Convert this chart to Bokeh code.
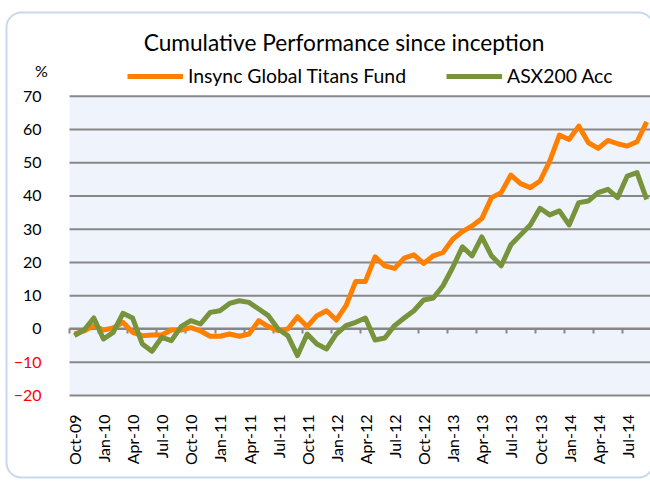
import math
from bokeh.plotting import figure
from bokeh.models import (Range1d, FixedTicker, LinearAxis, Label, Legend,
                          LegendItem, BoxAnnotation)
from bokeh.embed import file_html
from bokeh.resources import INLINE

# ---------------- data ----------------
months = ["Oct-09", "Nov-09", "Dec-09", "Jan-10", "Feb-10", "Mar-10", "Apr-10",
          "May-10", "Jun-10", "Jul-10", "Aug-10", "Sep-10", "Oct-10", "Nov-10",
          "Dec-10", "Jan-11", "Feb-11", "Mar-11", "Apr-11", "May-11", "Jun-11",
          "Jul-11", "Aug-11", "Sep-11", "Oct-11", "Nov-11", "Dec-11", "Jan-12",
          "Feb-12", "Mar-12", "Apr-12", "May-12", "Jun-12", "Jul-12", "Aug-12",
          "Sep-12", "Oct-12", "Nov-12", "Dec-12", "Jan-13", "Feb-13", "Mar-13",
          "Apr-13", "May-13", "Jun-13", "Jul-13", "Aug-13", "Sep-13", "Oct-13",
          "Nov-13", "Dec-13", "Jan-14", "Feb-14", "Mar-14", "Apr-14", "May-14",
          "Jun-14", "Jul-14", "Aug-14", "Sep-14"]

fund = [-1.5, -0.6, 1.0, -0.3, 0.3, 2.0, -1.0, -2.0, -1.8, -1.8,
        -0.3, -0.3, 0.4, -0.6, -2.2, -2.2, -1.5, -2.2, -1.5, 2.5,
        0.7, -0.5, 0.0, 3.7, 0.7, 4.0, 5.5, 2.7, 7.0, 14.3,
        14.3, 21.7, 19.0, 18.2, 21.3, 22.3, 19.7, 22.0, 23.0, 27.0,
        29.3, 31.0, 33.2, 39.5, 41.0, 46.3, 43.7, 42.5, 44.5, 50.5,
        58.3, 57.0, 61.0, 56.0, 54.3, 56.7, 55.7, 55.0, 56.3, 62.3]

asx = [-2.0, -0.3, 3.3, -3.0, -1.0, 4.7, 3.3, -4.5, -6.7, -2.5,
       -3.5, 0.7, 2.5, 1.5, 5.0, 5.5, 7.7, 8.5, 8.0, 6.0,
       4.0, 0.0, -2.0, -8.0, -1.5, -4.5, -6.0, -1.5, 1.0, 2.0,
       3.3, -3.3, -2.7, 1.0, 3.3, 5.5, 8.7, 9.3, 13.0, 18.5,
       24.7, 22.0, 27.7, 22.0, 19.0, 25.3, 28.3, 31.3, 36.3, 34.3,
       35.5, 31.3, 38.0, 38.5, 41.0, 42.0, 39.5, 46.0, 47.0, 39.0]

series_names = ["Insync Global Titans Fund", "ASX200 Acc"]
y_ticks = [-20, -10, 0, 10, 20, 30, 40, 50, 60, 70]
title_text = "Cumulative Performance since inception"
unit_text = "%"

# ---------------- layout / styling ----------------
W, H = 650, 481
FONT = "Lato"
ORANGE = "#FF8000"
GREEN = "#77933C"
GRID = "#878787"
BG = "#EFF3FB"
BORDER = "#4A7EBB"

PX_X = 9.7                  # pixels per month
PX_Y = 299.3 / 90.0         # pixels per percentage point
X0_PX = 73.9                # pixel position of first month
YTOP_PX = 95.7              # pixel position of the top of the value axis

X_START = -X0_PX / PX_X
X_END = X_START + W / PX_X
Y_TOP = max(y_ticks) + YTOP_PX / PX_Y
Y_BOTTOM = Y_TOP - H / PX_Y


def px_x(px):
    return X_START + px / PX_X


def px_y(py):
    return Y_TOP - py / PX_Y


x = list(range(len(months)))
label_idx = list(range(0, len(months), 3))
tick_bounds = [i - 0.5 for i in label_idx]
PLOT_LEFT = -0.5
Y_MIN, Y_MAX = min(y_ticks), max(y_ticks)

p = figure(width=W, height=H, output_backend="svg", toolbar_location=None,
           x_range=Range1d(X_START, X_END), y_range=Range1d(Y_BOTTOM, Y_TOP),
           x_axis_location=None, y_axis_location=None,
           min_border=0, background_fill_color="white",
           border_fill_color="white", outline_line_color=None)
p.grid.visible = False

# plot area background
p.add_layout(BoxAnnotation(left=PLOT_LEFT, right=X_END, bottom=Y_MIN, top=Y_MAX,
                           fill_color=BG, fill_alpha=1, line_color=None,
                           level="image"))

# horizontal gridlines
p.segment(x0=[PLOT_LEFT] * len(y_ticks), x1=[X_END] * len(y_ticks),
          y0=y_ticks, y1=y_ticks, line_color=GRID, line_width=2)

# tick marks on zero line
za = LinearAxis(fixed_location=0, ticker=FixedTicker(ticks=tick_bounds),
                bounds=(PLOT_LEFT, X_END),
                axis_line_color=GRID, axis_line_width=2,
                major_tick_line_color=GRID, major_tick_line_width=2,
                major_tick_in=0, major_tick_out=5, minor_tick_line_color=None,
                major_label_overrides={t: "" for t in tick_bounds},
                major_label_text_font_size="1px", level="underlay")
p.add_layout(za, "below")

# category labels along the bottom of the plot area
xa = LinearAxis(fixed_location=Y_MIN, ticker=FixedTicker(ticks=label_idx),
                major_label_overrides={i: months[i] for i in label_idx},
                major_label_orientation=math.pi / 2,
                axis_line_color=None, major_tick_line_color=None,
                minor_tick_line_color=None, major_label_standoff=13,
                major_label_text_font=FONT, major_label_text_font_size="16px",
                major_label_text_color="black")
p.add_layout(xa, "below")

# value labels: non-negative black, negative red
ya = LinearAxis(fixed_location=PLOT_LEFT,
                ticker=FixedTicker(ticks=[t for t in y_ticks if t >= 0]),
                axis_line_color=None, major_tick_line_color=None,
                minor_tick_line_color=None, major_label_standoff=22,
                major_label_text_font=FONT, major_label_text_font_size="16px",
                major_label_text_color="black")
p.add_layout(ya, "left")
ra = LinearAxis(fixed_location=PLOT_LEFT,
                ticker=FixedTicker(ticks=[t for t in y_ticks if t < 0]),
                axis_line_color=None, major_tick_line_color=None,
                minor_tick_line_color=None, major_label_standoff=22,
                major_label_text_font=FONT, major_label_text_font_size="16px",
                major_label_text_color="red")
p.add_layout(ra, "left")

# series
r1 = p.line(x, fund, line_color=ORANGE, line_width=5, line_join="round")
r2 = p.line(x, asx, line_color=GREEN, line_width=5, line_join="round")

legend = Legend(items=[LegendItem(label=series_names[0], renderers=[r1]),
                       LegendItem(label=series_names[1], renderers=[r2])],
                orientation="horizontal", location=(127, 394),
                glyph_width=56, glyph_height=20, label_standoff=5, spacing=40,
                padding=0, margin=0, border_line_color=None,
                background_fill_alpha=0, label_text_font=FONT,
                label_text_font_size="19.4px", label_text_color="black")
p.add_layout(legend)

p.add_layout(Label(x=px_x(343.5), y=px_y(42), text=title_text,
                   text_align="center", text_baseline="middle",
                   text_font=FONT, text_font_size="22.7px", text_color="black"))
p.add_layout(Label(x=px_x(41), y=px_y(70), text=unit_text,
                   text_align="center", text_baseline="middle",
                   text_font=FONT, text_font_size="16px", text_color="black"))

# chart-area rounded border
p.add_layout(BoxAnnotation(left=px_x(6), right=px_x(653), top=px_y(12),
                           bottom=px_y(477), fill_alpha=0,
                           line_color=BORDER, line_width=2,
                           border_radius=15, level="overlay"))

open("out.html", "w").write(file_html(p, INLINE))
